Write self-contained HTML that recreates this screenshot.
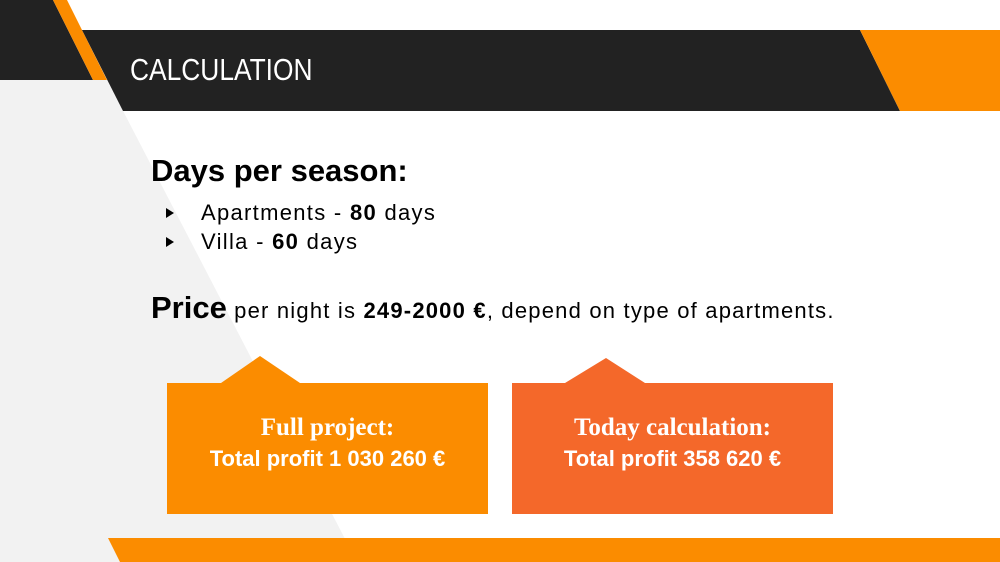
<!DOCTYPE html>
<html><head><meta charset="utf-8"><style>
body{margin:0;width:1000px;height:562px;overflow:hidden;background:#fff;position:relative;font-family:"Liberation Sans",sans-serif}
svg{position:absolute;left:0;top:0}
.t{position:absolute;white-space:nowrap;color:#000}
</style></head><body>
<svg width="1000" height="562">
<polygon points="0,80 107,80 357,562 0,562" fill="#f2f2f2"/>
<polygon points="0,0 53,0 93,80 0,80" fill="#222"/>
<polygon points="53,0 67,0 107,80 93,80" fill="#fb8c00"/>
<polygon points="82,30 860,30 900,111 123,111" fill="#222"/>
<polygon points="860,30 1000,30 1000,111 900,111" fill="#fb8c00"/>
<polygon points="108,538 1000,538 1000,562 120,562" fill="#fb8c00"/>
<polygon points="167,383 221,383 260,356 300,383 488,383 488,514 167,514" fill="#fb8c00"/>
<polygon points="512,383 565,383 606,358 645,383 833,383 833,514 512,514" fill="#f4682a"/>
<polygon points="166,208 174,213 166,218" fill="#000"/>
<polygon points="166,237 174,242 166,247" fill="#000"/>
</svg>
<div class="t" style="left:130px;top:52px;font-size:31px;color:#fff;font-weight:300;transform:scaleX(0.85);transform-origin:left">CALCULATION</div>
<div class="t" style="left:151px;top:153px;font-size:31px;font-weight:bold">Days per season:</div>
<div class="t" style="left:201px;top:200px;font-size:22px;letter-spacing:1.3px">Apartments - <b>80</b> days</div>
<div class="t" style="left:201px;top:229px;font-size:22px;letter-spacing:1.3px">Villa - <b>60</b> days</div>
<div class="t" style="left:151px;top:290px;font-size:22px;letter-spacing:1.2px"><b style="font-size:31px;letter-spacing:0">Price</b> per night is <b>249-2000 €</b>, depend on type of apartments.</div>
<div class="t" style="left:167px;width:321px;top:412px;text-align:center;color:#fff;font-weight:bold">
<div style="font-family:'Liberation Serif',serif;font-size:25px;line-height:31px">Full project:</div>
<div style="font-size:22px;line-height:31px">Total profit 1 030 260 €</div></div>
<div class="t" style="left:512px;width:321px;top:412px;text-align:center;color:#fff;font-weight:bold">
<div style="font-family:'Liberation Serif',serif;font-size:25px;line-height:31px">Today calculation:</div>
<div style="font-size:22px;line-height:31px">Total profit 358 620 €</div></div>
</body></html>
